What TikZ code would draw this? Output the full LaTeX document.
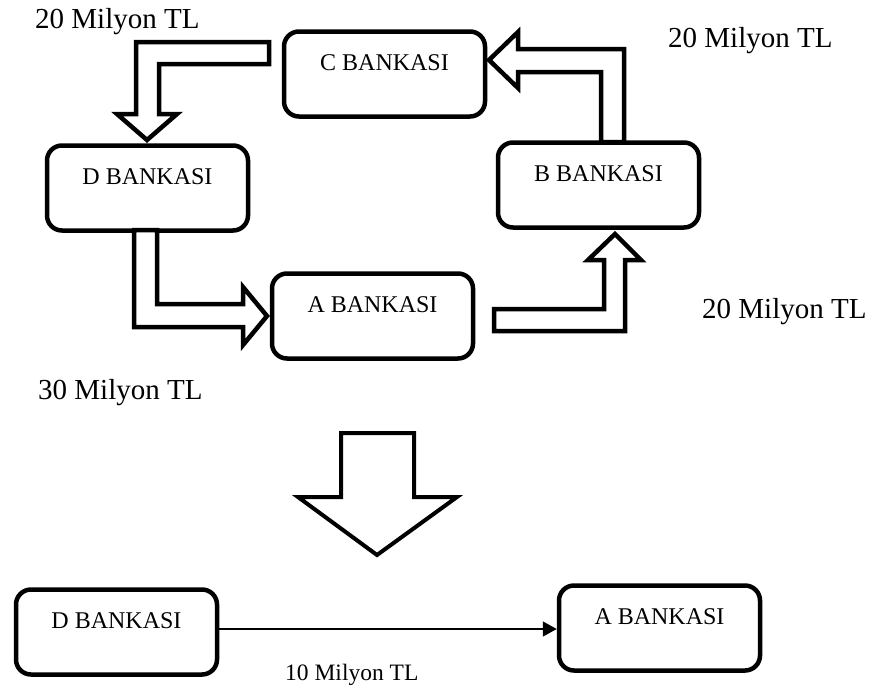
\documentclass[tikz,border=0pt]{standalone}
\usepackage{fontspec}
\setmainfont{Liberation Serif}
\usetikzlibrary{arrows.meta,calc}

\tikzset{
  bank/.style={draw, line width=4.5pt, rounded corners=15pt, inner sep=0pt,
    minimum width=201pt, minimum height=85pt,
    font=\fontsize{24}{28}\selectfont, text height=16pt, text depth=24pt},
  blockarrow/.style={draw, line width=4.5pt, line join=miter, fill=white},
  amount/.style={anchor=base west, inner sep=0pt, font=\fontsize{29}{33}\selectfont},
  smallamount/.style={anchor=base west, inner sep=0pt, font=\fontsize{23.5}{27}\selectfont},
}

\begin{document}
\begin{tikzpicture}[x=1pt, y=-1pt]
\useasboundingbox (0,0) rectangle (875,689);

% banks in the clearing cycle
\node[bank] (C) at (384.5,74) {C BANKASI};
\node[bank] (D) at (147.5,188) {D BANKASI};
\node[bank] (B) at (598.5,185) {B BANKASI};
\node[bank] (A) at (372.5,316) {A BANKASI};

% hollow flow arrows between the banks
\draw[blockarrow] (269,42) -- (136,42) -- (136,114) -- (117,114) -- (147,140)
  -- (177,114) -- (159,114) -- (159,64) -- (269,64) -- cycle;
\draw[blockarrow] (489,60) -- (518,32) -- (518,49) -- (624,49) -- (624,142)
  -- (601,142) -- (601,72) -- (518,72) -- (518,88) -- cycle;
\draw[blockarrow] (134,230) -- (134,327) -- (243,327) -- (243,345) -- (267,316)
  -- (243,287) -- (243,304) -- (157,304) -- (157,230) -- cycle;
\draw[blockarrow] (494,309) -- (494,331) -- (625,331) -- (625,260) -- (641,260)
  -- (615,234) -- (588,260) -- (604,260) -- (604,309) -- cycle;

% amounts
\node[amount] (l1) at (35,28) {20 Milyon TL};
\node[amount] (l2) at (668,47) {20 Milyon TL};
\node[amount] (l3) at (702,318) {20 Milyon TL};
\node[amount] (l4) at (38,399) {30 Milyon TL};

% netting step
\draw[blockarrow, line width=4pt] (341,433) -- (414,433) -- (414,497) -- (457,497)
  -- (377,555) -- (298,497) -- (341,497) -- cycle;

% net result
\node[bank] (D2) at (116.5,632) {D BANKASI};
\node[bank] (A2) at (659.5,628) {A BANKASI};
\draw[line width=1.5pt, -{Triangle[length=14pt,width=15pt]}]
  ([yshift=3pt]D2.east) coordinate (s) -- (s -| A2.west);
\node[smallamount] (l5) at (285,680) {10 Milyon TL};
\end{tikzpicture}
\end{document}
